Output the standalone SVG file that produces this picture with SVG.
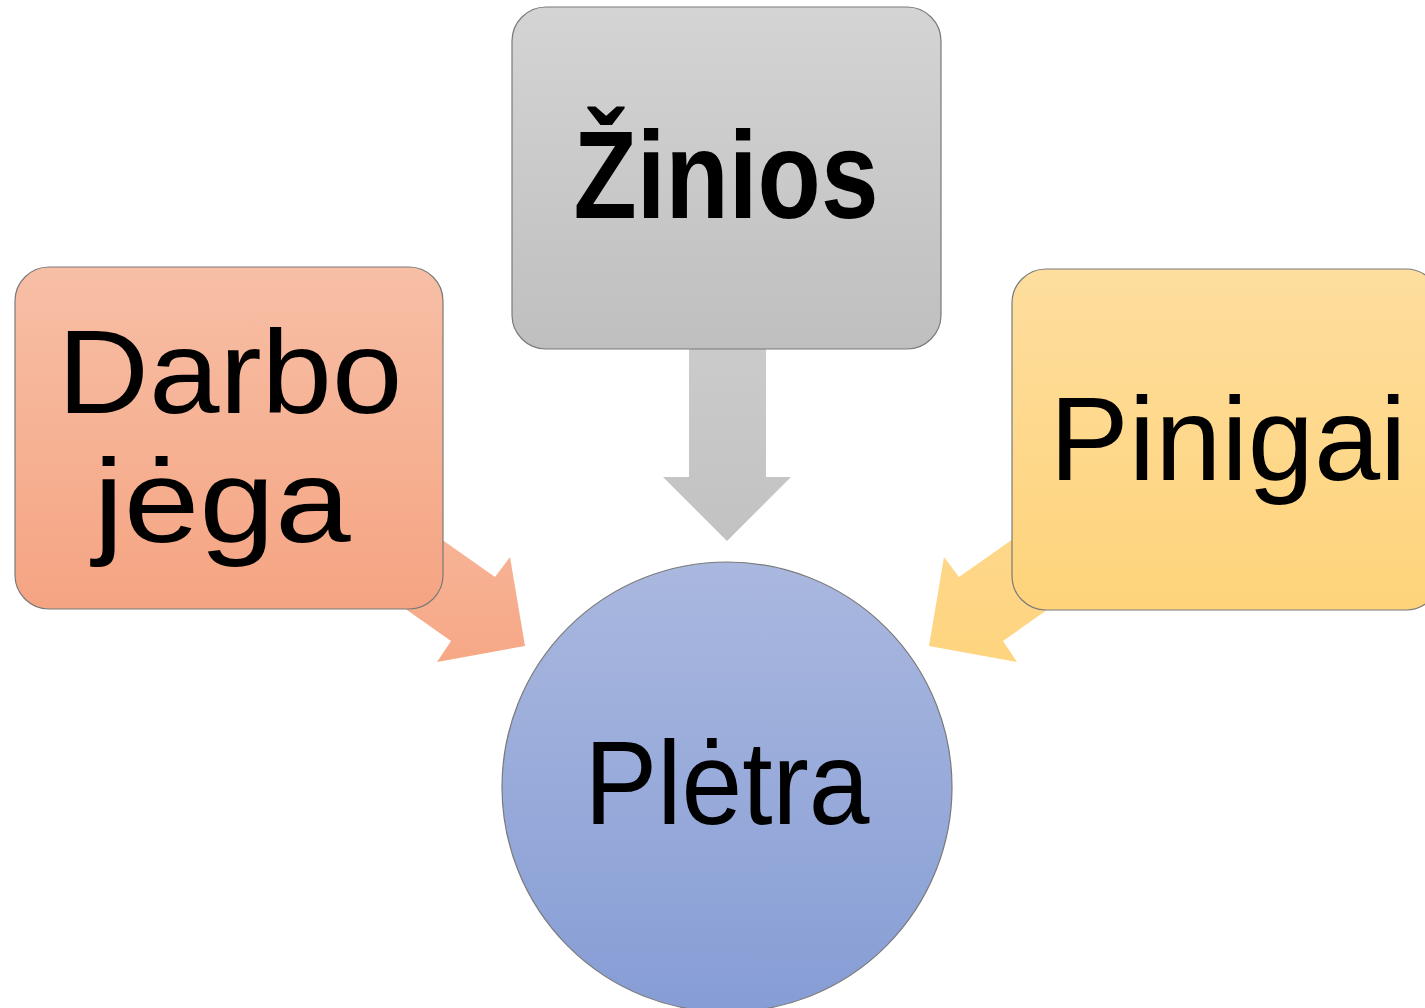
<svg xmlns="http://www.w3.org/2000/svg" width="1425" height="1008" viewBox="0 0 1425 1008">
<defs>
<linearGradient id="gSalmon" x1="0" y1="0" x2="0" y2="1"><stop offset="0" stop-color="#F7BFA6"/><stop offset="1" stop-color="#F5A482"/></linearGradient>
<linearGradient id="gGray" x1="0" y1="0" x2="0" y2="1"><stop offset="0" stop-color="#D4D4D4"/><stop offset="1" stop-color="#BFBFBF"/></linearGradient>
<linearGradient id="gYellow" x1="0" y1="0" x2="0" y2="1"><stop offset="0" stop-color="#FEDE9E"/><stop offset="1" stop-color="#FED37A"/></linearGradient>
<linearGradient id="gBlue" x1="0" y1="0" x2="0" y2="1"><stop offset="0" stop-color="#AAB8DF"/><stop offset="1" stop-color="#869DD5"/></linearGradient>
<linearGradient id="aGray" x1="0" y1="0" x2="0" y2="1"><stop offset="0" stop-color="#CBCBCB"/><stop offset="1" stop-color="#C2C2C2"/></linearGradient>
<linearGradient id="aSalmon" x1="0" y1="0" x2="0" y2="1"><stop offset="0" stop-color="#F7B699"/><stop offset="1" stop-color="#F6A886"/></linearGradient>
<linearGradient id="aYellow" x1="0" y1="0" x2="0" y2="1"><stop offset="0" stop-color="#FED88D"/><stop offset="1" stop-color="#FED47E"/></linearGradient>
</defs>
<style>
.box{stroke:#7a7a7a;stroke-width:1.2}
.lbl{font-family:"Liberation Sans",Arial,sans-serif;fill:#000;text-anchor:middle}
</style>
<rect width="1425" height="1008" fill="#FFFFFF"/>
<g id="connectors">
<polygon fill="url(#aGray)" points="689,340 766,340 766,477 791,477 727,541 663,477 689,477"/>
<polygon fill="url(#aSalmon)" points="397,508 495,577 510,557 525,646 437,662 451,641 353,572"/>
<polygon fill="url(#aYellow)" points="1057,508 959,577 944,557 929,646 1017,662 1003,641 1101,572"/>
</g>
<g id="node-darbo">
<rect class="box" x="15" y="267" width="428" height="342" rx="34" fill="url(#gSalmon)"/>
<text class="lbl" x="230" y="413" font-size="118" textLength="345" lengthAdjust="spacingAndGlyphs">Darbo</text>
<text class="lbl" x="222" y="542" font-size="118" textLength="257" lengthAdjust="spacingAndGlyphs">jėga</text>
</g>
<g id="node-zinios">
<rect class="box" x="512" y="7" width="429" height="342" rx="34" fill="url(#gGray)"/>
<text class="lbl" x="726" y="218" font-size="124" font-weight="bold" textLength="305" lengthAdjust="spacingAndGlyphs">Žinios</text>
</g>
<g id="node-pinigai">
<rect class="box" x="1012" y="269" width="428" height="341" rx="34" fill="url(#gYellow)"/>
<text class="lbl" x="1228" y="480" font-size="118" textLength="357" lengthAdjust="spacingAndGlyphs">Pinigai</text>
</g>
<g id="node-pletra">
<circle class="box" cx="727" cy="787" r="225" fill="url(#gBlue)"/>
<text class="lbl" x="727" y="824" font-size="118" textLength="285" lengthAdjust="spacingAndGlyphs">Plėtra</text>
</g>
</svg>
